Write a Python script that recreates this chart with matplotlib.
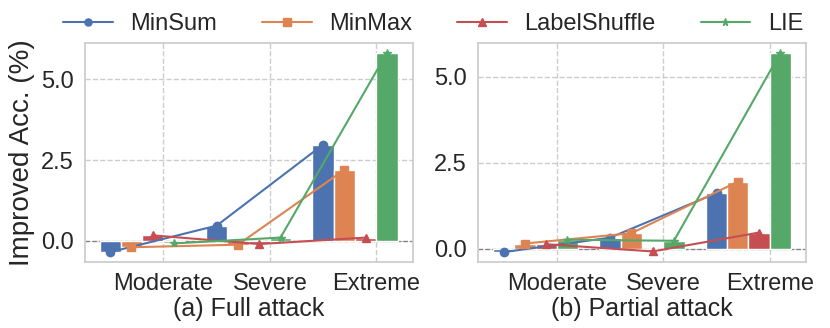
"""Improved accuracy under full / partial attack: grouped bars with per-method trend lines."""
import numpy as np
import matplotlib
matplotlib.use("Agg")
import matplotlib.pyplot as plt
import seaborn as sns

levels = ["Moderate", "Severe", "Extreme"]
methods = ["MinSum", "MinMax", "LabelShuffle", "LIE"]
panel_titles = ["(a) Full attack", "(b) Partial attack"]

# improved accuracy (%) per method, one list per level
full_minsum = [-0.35, 0.47, 2.98]
full_minmax = [-0.20, -0.12, 2.20]
full_shuffle = [0.17, -0.10, 0.10]
full_lie = [-0.08, 0.10, 5.82]

part_minsum = [-0.10, 0.32, 1.62]
part_minmax = [0.15, 0.45, 1.95]
part_shuffle = [0.13, -0.08, 0.47]
part_lie = [0.26, 0.23, 5.70]

sns.set_theme(style="whitegrid")
plt.rcParams["font.family"] = ["Liberation Sans", "DejaVu Sans"]
plt.rcParams["grid.linestyle"] = "--"

colors = sns.color_palette("deep")
colors = [colors[0], colors[1], colors[3], colors[2]]
markers = ["o", "s", "^", "*"]
offsets = [-0.5, -0.3, -0.1, 0.1]
width = 0.2


def draw_panel(ax, series, title):
    x = np.arange(len(levels))
    for i, vals in enumerate(series):
        xs = x + offsets[i]
        ax.bar(xs, vals, width=width, color=colors[i], edgecolor="white", linewidth=1, zorder=2)
        ax.plot(xs, vals, color=colors[i], marker=markers[i], markersize=6, lw=1.5,
                label=methods[i], zorder=3)
    ax.axhline(0, color="gray", ls="--", lw=0.9, zorder=1)
    ax.set_xticks(x)
    ax.set_xticklabels(levels, fontsize=17)
    ax.set_yticks([0.0, 2.5, 5.0])
    ax.set_yticklabels(["0.0", "2.5", "5.0"], fontsize=17)
    ax.tick_params(axis="both", pad=2)
    ax.set_xlabel(title, fontsize=18, labelpad=1)
    for s in ax.spines.values():
        s.set_color("#cccccc")


fig, axes = plt.subplots(1, 2, figsize=(8.3, 3.28), dpi=100)
fig.subplots_adjust(left=0.102, right=0.971, bottom=0.201, top=0.869, wspace=0.2)
draw_panel(axes[0], [full_minsum, full_minmax, full_shuffle, full_lie], panel_titles[0])
draw_panel(axes[1], [part_minsum, part_minmax, part_shuffle, part_lie], panel_titles[1])
axes[0].set_ylabel("Improved Acc. (%)", fontsize=20, labelpad=4)

handles, labels = axes[0].get_legend_handles_labels()
fig.legend(handles, labels, loc="upper center", bbox_to_anchor=(0.522, 1.025), ncol=4,
           frameon=False, fontsize=17, handlelength=2.1, handletextpad=0.75,
           columnspacing=1.9, markerscale=0.85)

fig.savefig("out.png")
